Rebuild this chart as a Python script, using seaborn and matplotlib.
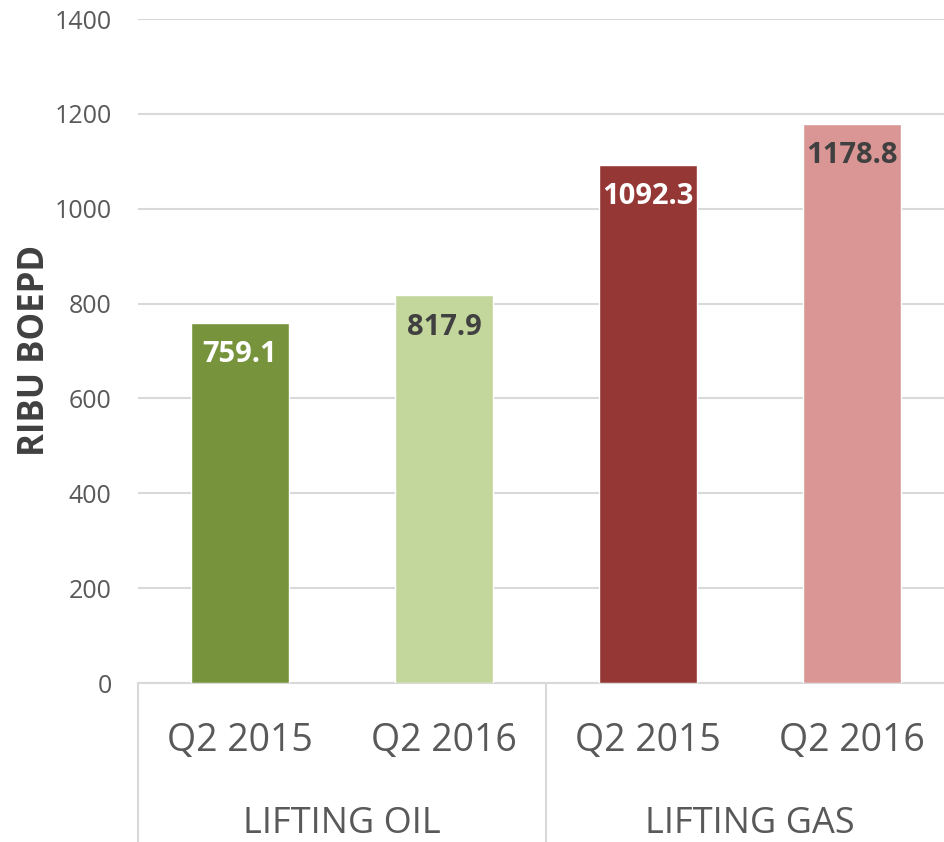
import seaborn as sns
import matplotlib.pyplot as plt
import matplotlib.transforms as mtransforms
import pandas as pd

# data
groups = ["LIFTING OIL", "LIFTING OIL", "LIFTING GAS", "LIFTING GAS"]
periods = ["Q2 2015", "Q2 2016", "Q2 2015", "Q2 2016"]
values = [759.1, 817.9, 1092.3, 1178.8]
colors = ["#77933C", "#C3D69B", "#953735", "#D99694"]
label_colors = ["white", "#404040", "white", "#404040"]
group_names = ["LIFTING OIL", "LIFTING GAS"]

df = pd.DataFrame({"group": groups, "period": periods, "value": values})
df["key"] = df["group"] + " " + df["period"]

sns.set_style("white")
plt.rcParams["font.family"] = ["Open Sans", "DejaVu Sans"]

fig = plt.figure(figsize=(9.45, 8.42), dpi=100)
ax = fig.add_axes([0.146, 0.1888, 0.8635, 0.7886])

sns.barplot(data=df, x="key", y="value", hue="key", palette=colors,
            width=0.48, legend=False, saturation=1, ax=ax, zorder=3)

ax.set_ylim(0, 1400)
ax.set_xlim(-0.5, 3.5)
ax.set_yticks(range(0, 1401, 200))
ax.grid(axis="y", color="#d9d9d9", linewidth=1.5, zorder=0)
for s in ["top", "right", "left"]:
    ax.spines[s].set_visible(False)
ax.spines["bottom"].set_color("#d9d9d9")
ax.spines["bottom"].set_linewidth(1.5)

ax.set_xticks(range(len(periods)))
ax.set_xticklabels(periods, fontsize=27, color="#595959")
ax.tick_params(axis="x", length=0, pad=28)
ax.tick_params(axis="y", length=0, pad=19, labelsize=18, labelcolor="#595959")
ax.set_xlabel("")
ax.set_ylabel("")
fig.text(35 / 945, (842 - 350) / 842, "RIBU BOEPD", rotation=90, ha="center",
         va="center", fontsize=25, fontweight="bold", color="#404040")

# value labels inside the top of each bar
for i, v in enumerate(values):
    ax.annotate(f"{v:.1f}", (i, v), xytext=(0, -23), textcoords="offset points",
                ha="center", va="center", fontsize=21, fontweight="bold",
                color=label_colors[i], zorder=4)

# category dividers and group labels below the axis
trans = mtransforms.blended_transform_factory(ax.transData, ax.transAxes)
for xd in [-0.5, 1.5, 3.5]:
    ax.plot([xd, xd], [0, -0.26], transform=trans, color="#d9d9d9",
            linewidth=1.5, clip_on=False)
for j, name in enumerate(group_names):
    ax.text(2 * j + 0.5, -0.213, name, transform=trans, ha="center", va="center",
            fontsize=26, color="#595959")

fig.savefig("out.png", dpi=100)
